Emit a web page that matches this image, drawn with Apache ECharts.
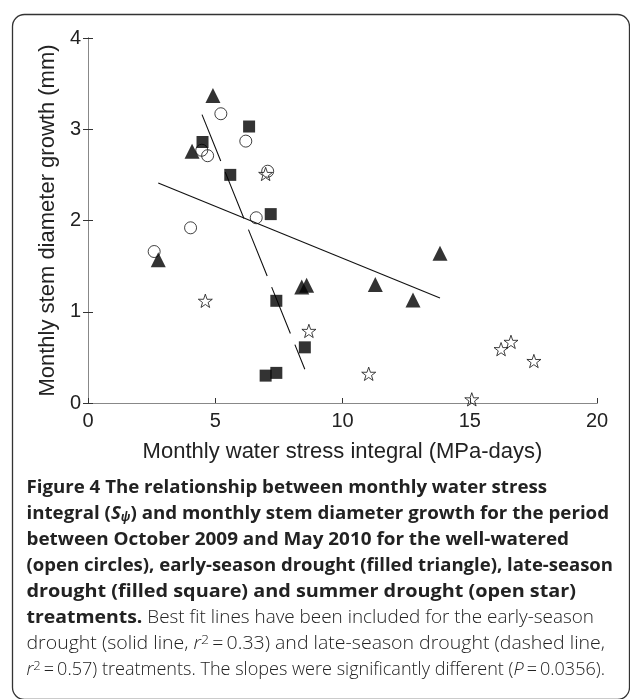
<!DOCTYPE html>
<html>
<head>
<meta charset="utf-8">
<script src="https://cdn.jsdelivr.net/npm/echarts@6/dist/echarts.min.js"></script>
<style>
html,body{margin:0;padding:0;background:#fff;}
#chart{width:630px;height:699px;}
</style>
</head>
<body>
<div id="chart"></div>
<script>
// ---- data ----
const xTicks = [0, 5, 10, 15, 20];
const yTicks = [0, 1, 2, 3, 4];

// well-watered (open circles)
const wellWatered = [[2.60,1.66],[4.03,1.92],[4.47,2.77],[4.70,2.71],[5.22,3.17],[6.20,2.87],[7.06,2.54],[6.61,2.03]];
// early-season drought (filled triangles)
const earlySeason = [[2.76,1.57],[4.09,2.76],[4.91,3.37],[8.40,1.27],[8.59,1.29],[11.29,1.30],[12.77,1.13],[13.83,1.64]];
// late-season drought (filled squares)
const lateSeason = [[4.50,2.86],[5.59,2.50],[6.33,3.03],[7.18,2.07],[7.40,1.12],[6.98,0.30],[7.40,0.33],[8.52,0.61]];
// summer drought (open stars)
const summerDrought = [[4.61,1.12],[6.98,2.51],[8.68,0.79],[11.03,0.32],[15.08,0.04],[16.23,0.59],[16.62,0.67],[17.52,0.46]];

// best-fit lines (end points)
const earlyFit = [[2.76,2.41],[13.83,1.15]];
const lateFit = [[4.48,3.16],[8.52,0.37]];

const xTitle = 'Monthly water stress integral (MPa-days)';
const yTitle = 'Monthly stem diameter growth (mm)';

const T = '\u2009';
const captionLines = [
  '{b|Figure 4 The relationship between monthly water stress}',
  '{b|integral (}{bi|S}{bsub|ψ}{b|) and monthly stem diameter growth for the period}',
  '{b|between October 2009 and May 2010 for the well-watered}',
  '{b|(open circles), early-season drought (filled triangle), late-season}',
  '{b|drought (filled square) and summer drought (open star)}',
  '{b|treatments.}{r| Best fit lines have been included for the early-season}',
  '{r|drought (solid line, }{ri|r}{sup|2}{r|'+T+'='+T+'0.33) and late-season drought (dashed line,}',
  '{ri|r}{sup|2}{r|'+T+'='+T+'0.57) treatments. The slopes were significantly different (}{ri|P}{r|'+T+'='+T+'0.0356).}'
];
// right edge of each caption line in the reference (layout)
const captionRight = [547, 609, 569, 613, 576, 594, 605, 605];

// ---- caption styles ----
const FAM = '"Open Sans"';
const BS = 18, RS = 17.5;
const rich = {
  b:{fontFamily:FAM, fontWeight:'bold', fontSize:BS, color:'#231f20'},
  bi:{fontFamily:FAM, fontWeight:'bold', fontStyle:'italic', fontSize:BS, color:'#231f20'},
  bsub:{fontFamily:FAM, fontWeight:'bold', fontStyle:'italic', fontSize:BS*0.64, color:'#231f20', verticalAlign:'bottom', padding:[8,0,0,0]},
  r:{fontFamily:FAM, fontWeight:300, fontSize:RS, color:'#444'},
  ri:{fontFamily:FAM, fontWeight:300, fontStyle:'italic', fontSize:RS, color:'#444'},
  sup:{fontFamily:FAM, fontWeight:300, fontSize:RS*0.72, color:'#444', verticalAlign:'top', padding:[0,0,7,0]}
};
const mctx = document.createElement('canvas').getContext('2d');
function richWidth(str){
  let w = 0; const re = /\{(\w+)\|([^}]*)\}/g; let m;
  while ((m = re.exec(str))){
    const s = rich[m[1]];
    mctx.font = (s.fontStyle||'normal') + ' ' + s.fontWeight + ' ' + s.fontSize + 'px ' + s.fontFamily;
    w += mctx.measureText(m[2]).width;
  }
  return w;
}

const CAP_X = 26.5;
const graphics = [{
  type:'rect', left:10, top:12, z:0, silent:true,
  shape:{width:617, height:685, r:12},
  style:{fill:'none', stroke:'#333', lineWidth:1.3}
}];
captionLines.forEach((t, i) => {
  const sx = (captionRight[i] - CAP_X) / richWidth(t);
  graphics.push({
    type:'text', x:CAP_X, y:488 + i*26, scaleX:sx, originX:0, z:10,
    style:{text:t, rich:rich, fill:'#222', verticalAlign:'middle', align:'left'}
  });
});

const chart = echarts.init(document.getElementById('chart'), null, {renderer:'canvas'});
const labelFont = {fontFamily:'Liberation Sans', fontSize:20, color:'#222'};

chart.setOption({
  animation:false,
  backgroundColor:'#fff',
  grid:{left:88, right:33, top:38, bottom:296, containLabel:false},
  xAxis:[{
    type:'value', min:xTicks[0], max:xTicks[xTicks.length-1], interval:5, position:'bottom',
    name:xTitle, nameLocation:'middle', nameGap:38,
    nameTextStyle:{fontFamily:'Liberation Sans', fontSize:22, color:'#222'},
    axisLine:{show:true, lineStyle:{color:'#333', width:1}},
    axisTick:{show:true, inside:true, length:5, lineStyle:{color:'#333'}},
    axisLabel:Object.assign({margin:8, formatter:v=>xTicks.includes(v)?String(v):''}, labelFont),
    splitLine:{show:false}
  },{
    type:'value', min:xTicks[0], max:xTicks[xTicks.length-1], interval:5, position:'top',
    axisLine:{show:true, lineStyle:{color:'#888', width:1}},
    axisTick:{show:false}, axisLabel:{show:false}, splitLine:{show:false}
  }],
  yAxis:[{
    type:'value', min:yTicks[0], max:yTicks[yTicks.length-1], interval:1, position:'left',
    name:yTitle, nameLocation:'middle', nameGap:28, nameRotate:90,
    nameTextStyle:{fontFamily:'Liberation Sans', fontSize:22, color:'#222'},
    axisLine:{show:true, lineStyle:{color:'#333', width:1}},
    axisTick:{show:true, inside:true, length:5, lineStyle:{color:'#333'}},
    axisLabel:Object.assign({margin:7, formatter:v=>yTicks.includes(v)?String(v):''}, labelFont),
    splitLine:{show:false}
  },{
    type:'value', min:yTicks[0], max:yTicks[yTicks.length-1], interval:1, position:'right',
    axisLine:{show:true, lineStyle:{color:'#888', width:1}},
    axisTick:{show:true, inside:true, length:5, lineStyle:{color:'#333'}},
    axisLabel:{show:false}, splitLine:{show:false}
  }],
  series:[
    {type:'line', data:earlyFit, symbol:'none', z:2, silent:true,
     lineStyle:{color:'#111', width:1.1, type:'solid'}},
    {type:'line', data:lateFit, symbol:'none', z:2, silent:true,
     lineStyle:{color:'#111', width:1.1, type:[50,12]}},
    {type:'scatter', data:wellWatered, symbol:'circle', symbolSize:12, z:3,
     itemStyle:{color:'rgba(0,0,0,0)', borderColor:'#111', borderWidth:1}},
    {type:'scatter', data:summerDrought, z:4, symbolSize:14, symbolKeepAspect:true,
     symbol:'path://M50,0 L61.8,35.1 L97.6,34.5 L69.1,56.7 L79.4,90.5 L50,70 L20.6,90.5 L30.9,56.7 L2.4,34.5 L38.2,35.1 Z',
     itemStyle:{color:'rgba(0,0,0,0)', borderColor:'#111', borderWidth:1}},
    {type:'scatter', data:earlySeason, symbol:'triangle', symbolSize:15, z:5,
     itemStyle:{color:'#000'}},
    {type:'scatter', data:lateSeason, symbol:'rect', symbolSize:12, z:6,
     itemStyle:{color:'#000'}}
  ],
  graphic:graphics
});
</script>
</body>
</html>
